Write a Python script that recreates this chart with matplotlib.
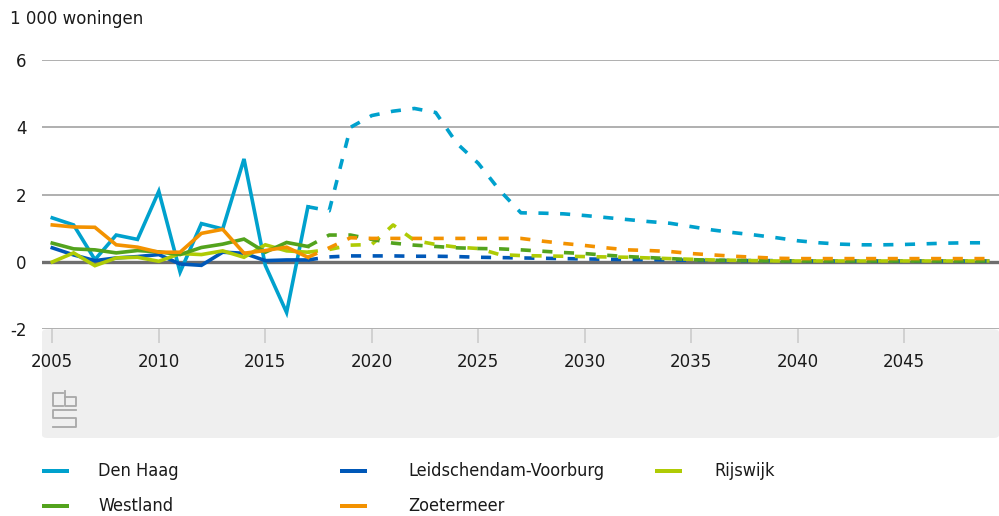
import numpy as np
import matplotlib
matplotlib.use("Agg")
import matplotlib.pyplot as plt
from matplotlib.lines import Line2D
from matplotlib.patches import FancyBboxPatch, Rectangle

# data, 1 000 woningen
years_hist = list(range(2005, 2018))
years_proj = list(range(2017, 2050))

den_haag_hist = [1.31, 1.1, 0.07, 0.8, 0.67, 2.1, -0.3, 1.14, 0.98, 3.06, -0.1, -1.5, 1.64]
den_haag_proj = [1.64, 1.52, 4.0, 4.35, 4.48, 4.56, 4.44, 3.52, 2.93, 2.13, 1.46, 1.45, 1.43,
                 1.38, 1.32, 1.26, 1.2, 1.15, 1.05, 0.95, 0.87, 0.8, 0.72, 0.63, 0.57, 0.53,
                 0.51, 0.51, 0.52, 0.54, 0.56, 0.57, 0.57]

lv_hist = [0.42, 0.21, 0.04, 0.12, 0.16, 0.22, -0.06, -0.1, 0.29, 0.26, 0.04, 0.06, 0.06]
lv_proj = [0.06, 0.15, 0.18, 0.18, 0.18, 0.17, 0.17, 0.16, 0.14, 0.13, 0.12, 0.11, 0.1,
           0.09, 0.08, 0.07, 0.07, 0.06, 0.05, 0.05, 0.04, 0.04, 0.04, 0.03, 0.03, 0.03,
           0.03, 0.03, 0.03, 0.03, 0.03, 0.03, 0.03]

rijswijk_hist = [0.0, 0.27, -0.11, 0.12, 0.14, 0.02, 0.25, 0.22, 0.33, 0.14, 0.51, 0.33, 0.29]
rijswijk_proj = [0.29, 0.37, 0.5, 0.52, 1.1, 0.64, 0.52, 0.44, 0.4, 0.22, 0.19, 0.18, 0.17,
                 0.16, 0.15, 0.14, 0.12, 0.1, 0.08, 0.06, 0.05, 0.04, 0.03, 0.03, 0.03, 0.03,
                 0.03, 0.03, 0.03, 0.03, 0.03, 0.03, 0.03]

westland_hist = [0.56, 0.39, 0.36, 0.27, 0.34, 0.3, 0.22, 0.43, 0.53, 0.68, 0.29, 0.58, 0.46]
westland_proj = [0.46, 0.8, 0.8, 0.67, 0.56, 0.5, 0.46, 0.42, 0.4, 0.39, 0.36, 0.32, 0.28,
                 0.25, 0.2, 0.16, 0.13, 0.1, 0.07, 0.05, 0.05, 0.04, 0.03, 0.03, 0.03, 0.03,
                 0.03, 0.03, 0.03, 0.03, 0.03, 0.03, 0.03]

zoetermeer_hist = [1.1, 1.04, 1.03, 0.51, 0.44, 0.29, 0.29, 0.85, 0.97, 0.26, 0.34, 0.44, 0.14]
zoetermeer_proj = [0.14, 0.42, 0.72, 0.7, 0.7, 0.7, 0.7, 0.7, 0.7, 0.7, 0.7, 0.62, 0.55,
                   0.49, 0.42, 0.36, 0.34, 0.31, 0.25, 0.21, 0.17, 0.14, 0.11, 0.1, 0.1, 0.1,
                   0.1, 0.1, 0.1, 0.1, 0.1, 0.1, 0.1]

names = ["Den Haag", "Leidschendam-Voorburg", "Rijswijk", "Westland", "Zoetermeer"]
colors = ["#00a1cd", "#0058b8", "#afcb05", "#53a31d", "#f39200"]
hist = [den_haag_hist, lv_hist, rijswijk_hist, westland_hist, zoetermeer_hist]
proj = [den_haag_proj, lv_proj, rijswijk_proj, westland_proj, zoetermeer_proj]

W, H = 999, 516
fig = plt.figure(figsize=(W / 100, H / 100), dpi=100)

def fx(x):
    return x / W

def fy(y):
    return 1 - y / H

# grey panel under the x axis
panel = FancyBboxPatch((fx(42), fy(438)), fx(999 - 42), (438 - 329.3) / H,
                       boxstyle="round,pad=0,rounding_size=0.006",
                       transform=fig.transFigure, facecolor="#efefef",
                       edgecolor="none", zorder=-5)
fig.patches.append(panel)

ax = fig.add_axes([fx(42), fy(329.3), fx(999 - 42), (329.3 - 60) / H])
ax.patch.set_alpha(0)
ax.set_zorder(2)

lw = 2.6
order = [1, 2, 3, 4, 0]
for i in order:
    ax.plot(years_hist, hist[i], color=colors[i], lw=lw, solid_joinstyle="miter", zorder=3 + i)
    ax.plot(years_proj, proj[i], color=colors[i], lw=lw, dashes=(2.8, 3.2),
            dash_capstyle="butt", zorder=3 + i)

ax.set_xlim(2005 - 10.3 / 21.3, 2005 + 946.7 / 21.3)
ax.set_ylim(-2, 6)
ax.set_yticks([-2, 0, 2, 4, 6])
ax.set_yticklabels(["-2", "0", "2", "4", "6"])
ax.set_xticks(range(2005, 2050, 5))

for s in ax.spines.values():
    s.set_visible(False)
for v in [-2, 2, 4, 6]:
    ax.axhline(v, color="#9a9a9a", lw=1.1, zorder=1)
ax.axhline(0, color="#6e6e6e", lw=2.4, zorder=2)

ax.tick_params(axis="y", length=0, pad=11, labelsize=12, labelcolor="#1a1a1a")
ax.tick_params(axis="x", direction="out", length=10, width=1.2, color="#cccccc",
               pad=7, labelsize=12, labelcolor="#1a1a1a")

fig.text(fx(10), fy(19), "1 000 woningen", fontsize=12, color="#1a1a1a", va="center", ha="left")

# cbs logo, rough outline
lc = "#a8a8a8"
logo = [
    [(63, 393), (53, 393), (53, 406), (63, 406)],
    [(65, 391), (65, 406), (76, 406), (76, 397), (65, 397)],
    [(76, 410), (53, 410), (53, 418), (76, 418), (76, 427), (53, 427)],
]
for pts in logo:
    xs = [fx(p[0]) for p in pts]
    ys = [fy(p[1]) for p in pts]
    fig.add_artist(Line2D(xs, ys, color=lc, lw=1.3, transform=fig.transFigure, zorder=3))

# legend drawn by hand: (line x, text x, y)
leg_pos = {0: (42, 98, 471), 3: (42, 98, 506), 1: (340, 408, 471),
           4: (340, 408, 506), 2: (655, 714, 471)}
for i, (lx, tx, ly) in leg_pos.items():
    fig.patches.append(Rectangle((fx(lx), fy(ly + 2)), 27 / W, 4 / H, facecolor=colors[i],
                                 edgecolor="none", transform=fig.transFigure))
    fig.text(fx(tx), fy(ly), names[i], fontsize=13, family="DejaVu Sans",
             stretch="condensed", color="#1a1a1a", va="center", ha="left")

fig.savefig("out.png", dpi=100)
